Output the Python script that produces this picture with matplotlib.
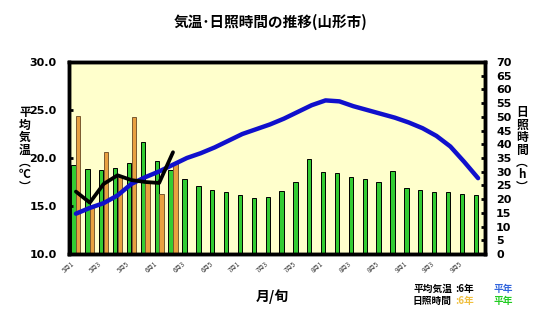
import numpy as np
import matplotlib
matplotlib.use('Agg')
from matplotlib import pyplot as plt

plt.rcParams['font.family'] = ['Noto Sans CJK JP', 'DejaVu Sans']

# 半旬ラベル(5月1旬〜9月6旬)
months = ['5', '6', '7', '8', '9']
periods = ['1', '2', '3', '4', '5', '6']
labels = [m + '月' + p for m in months for p in periods]

# 日照時間 平年 (h)
sun_normal = [32.5, 30.9, 30.7, 31.3, 33.2, 41.0, 33.8, 30.7, 27.3, 24.7,
              23.2, 22.5, 21.4, 20.3, 20.7, 22.9, 26.2, 34.6, 29.8, 29.4,
              28.0, 27.3, 26.2, 30.2, 24.0, 23.2, 22.5, 22.5, 21.8, 21.4]
# 日照時間 6年 (h)
sun_2024 = [50.4, 16.7, 37.1, 28.2, 50.0, 25.8, 21.8, 33.1] + [0] * 22

# 平均気温 平年 (℃)
temp_normal = [14.2, 14.8, 15.3, 16.1, 17.3, 18.0, 18.6, 19.3, 20.0, 20.5,
               21.1, 21.8, 22.5, 23.0, 23.5, 24.1, 24.8, 25.5, 26.0, 25.9,
               25.4, 25.0, 24.6, 24.2, 23.7, 23.1, 22.3, 21.2, 19.6, 17.9]
# 平均気温 6年 (℃)
temp_2024 = [16.5, 15.35, 17.3, 18.2, 17.7, 17.5, 17.4, 20.6]

num_font = ['Liberation Sans Narrow', 'DejaVu Sans']

fig = plt.figure(figsize=(5.42, 3.19), dpi=100)
ax = fig.add_axes([69 / 542, 65 / 319, 416 / 542, 192 / 319])
ax.set_facecolor('#FFFFCC')
tax = ax.twinx()

x = np.arange(len(labels))
# 日照時間(右軸)
ax.bar(x - 0.17, sun_normal, width=0.31, color='#33CC33', edgecolor='black', linewidth=0.7, zorder=2)
ax.bar(x + 0.17, sun_2024, width=0.31, color='#E8A040', edgecolor='#7a5a30', linewidth=0.7, zorder=2)
ax.set_ylim(0, 70)
ax.set_xlim(-0.5, len(labels) - 0.5)
ax.yaxis.tick_right()
ax.set_yticks(range(0, 71, 5))
ax.tick_params(axis='y', direction='in', length=3, width=2, pad=8)
for t in ax.get_yticklabels():
    t.set_family(num_font)
    t.set_fontweight('bold')
    t.set_fontsize(8)

ax.set_xticks(x[::2])
ax.set_xticklabels(labels[::2], rotation=40, ha='right', fontsize=4.5, color='#333333')
ax.tick_params(axis='x', length=0, pad=4)
for s in ax.spines.values():
    s.set_linewidth(2.5)

# 平均気温(左軸)
tax.yaxis.tick_left()
tax.plot(x, temp_normal, color='#1010CC', linewidth=3.2, zorder=3, solid_capstyle='round')
tax.plot(x[:len(temp_2024)], temp_2024, color='black', linewidth=2.7, zorder=4, solid_capstyle='round')
tax.set_ylim(10, 30)
tax.set_yticks([10, 15, 20, 25, 30])
tax.set_yticklabels(['%.1f' % v for v in [10, 15, 20, 25, 30]])
tax.tick_params(axis='y', direction='in', length=3, width=2, pad=9)
for t in tax.get_yticklabels():
    t.set_family(num_font)
    t.set_fontweight('bold')
    t.set_fontsize(8)
for s in tax.spines.values():
    s.set_linewidth(2.5)

# タイトル・軸ラベル
fig.text(0.5, 1 - 21.5 / 319, '気温･日照時間の推移(山形市)', ha='center', va='center',
         fontsize=10.5, fontweight='bold')
fig.text(25 / 542, 1 - 150 / 319, '\n'.join(['平', '均', '気', '温', '︵', '℃', '︶']),
         ha='center', va='center', fontsize=8.5, fontweight='bold', linespacing=0.95)
fig.text(522 / 542, 1 - 150 / 319, '\n'.join(['日', '照', '時', '間', '︵', 'h', '︶']),
         ha='center', va='center', fontsize=8.5, fontweight='bold', linespacing=0.95)
fig.text(272 / 542, 1 - 297 / 319, '月/旬', ha='center', va='center', fontsize=10, fontweight='bold')

# 凡例
fs = 7
fig.text(413 / 542, 1 - 289 / 319, '平均気温', ha='left', va='center', fontsize=fs, fontweight='bold')
fig.text(455 / 542, 1 - 289 / 319, ':6年', ha='left', va='center', fontsize=fs, fontweight='bold')
fig.text(493 / 542, 1 - 289 / 319, '平年', ha='left', va='center', fontsize=fs, fontweight='bold', color='#3366DD')
fig.text(413 / 542, 1 - 301 / 319, '日照時間', ha='left', va='center', fontsize=fs, fontweight='bold')
fig.text(455 / 542, 1 - 301 / 319, ':6年', ha='left', va='center', fontsize=fs, fontweight='bold', color='#F0C040')
fig.text(493 / 542, 1 - 301 / 319, '平年', ha='left', va='center', fontsize=fs, fontweight='bold', color='#22CC22')

plt.savefig('out.png', dpi=100)
